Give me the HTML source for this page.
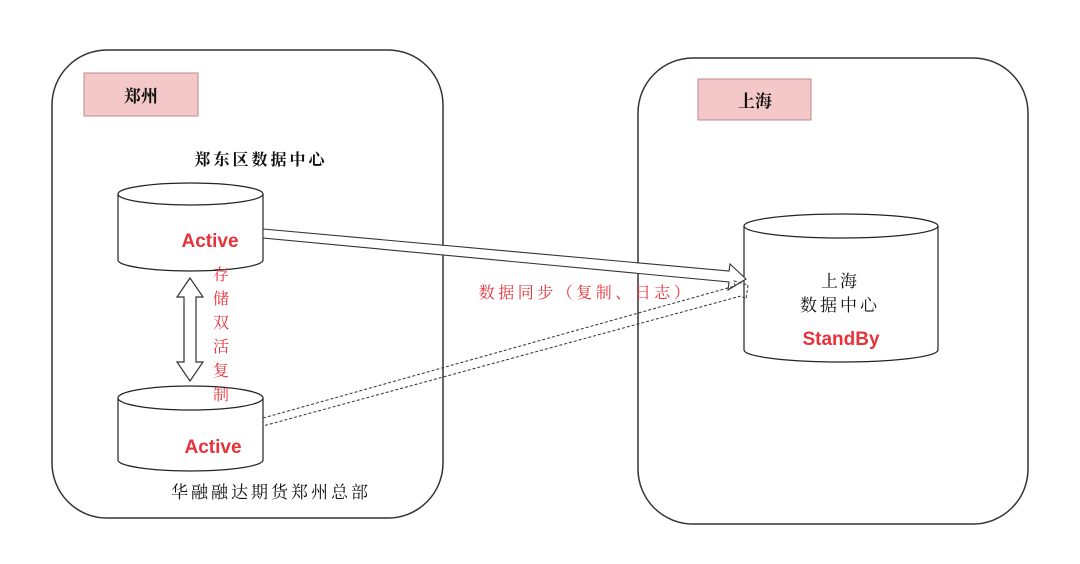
<!DOCTYPE html>
<html><head><meta charset="utf-8"><style>
html,body{margin:0;padding:0;background:#fff;}
svg{display:block;}
.s{font-family:"Liberation Serif","Noto Serif CJK SC",serif;}
.b{font-family:"Liberation Sans",sans-serif;font-weight:bold;}
</style></head><body>
<svg width="1080" height="564" viewBox="0 0 1080 564" xmlns="http://www.w3.org/2000/svg">
<rect x="0" y="0" width="1080" height="564" fill="#fff"/>
<rect x="52" y="50" width="391" height="468" rx="55" fill="none" stroke="#333" stroke-width="1.5"/>
<rect x="638" y="58" width="390" height="466" rx="55" fill="none" stroke="#333" stroke-width="1.5"/>
<rect x="84" y="73" width="114" height="43" fill="#f4c8c8" stroke="#c08888"/>
<rect x="698" y="79" width="113" height="41" fill="#f4c8c8" stroke="#c08888"/>
<text x="141" y="102" class="s" font-size="17" font-weight="bold" text-anchor="middle" fill="#111">郑州</text>
<text x="755" y="107" class="s" font-size="17" font-weight="bold" text-anchor="middle" fill="#111">上海</text>
<text x="261" y="165" class="s" font-size="16" font-weight="bold" text-anchor="middle" fill="#111" letter-spacing="3">郑东区数据中心</text>
<g fill="#fff" stroke="#222" stroke-width="1.2">
<path d="M118,194 L118,260 A72.5,11 0 0 0 263,260 L263,194"/>
<ellipse cx="190.5" cy="194" rx="72.5" ry="11"/>
<path d="M118,398 L118,460 A72.5,11 0 0 0 263,460 L263,398"/>
<ellipse cx="190.5" cy="398" rx="72.5" ry="12"/>
<path d="M744,226 L744,350 A97,12 0 0 0 938,350 L938,226"/>
<ellipse cx="841" cy="226" rx="97" ry="12"/>
</g>
<text x="210" y="247" class="b" font-size="19" text-anchor="middle" fill="#e8323a">Active</text>
<text x="213" y="453" class="b" font-size="19" text-anchor="middle" fill="#e8323a">Active</text>
<text x="841" y="345" class="b" font-size="19" text-anchor="middle" fill="#e8323a">StandBy</text>
<text x="840" y="287" class="s" font-size="17" text-anchor="middle" fill="#111" letter-spacing="2">上海</text>
<text x="840" y="311" class="s" font-size="17" text-anchor="middle" fill="#111" letter-spacing="3">数据中心</text>
<polygon points="190,278 203,297 196,297 196,362 203,362 190,381 177,362 184,362 184,297 177,297" fill="#fff" stroke="#333" stroke-width="1.2"/>
<g class="s" font-size="16" fill="#e8323a" text-anchor="middle">
<text x="221" y="280">存</text><text x="221" y="304">储</text><text x="221" y="328">双</text><text x="221" y="352">活</text><text x="221" y="376">复</text><text x="221" y="400">制</text>
</g>
<polygon points="263,229 729,271 730,264 746,279 728,290 729,282 263,238" fill="#fff" stroke="#333" stroke-width="1.1"/>
<polygon points="263,418 735,286 734,281 748,285 746,299 741,296 263,426" fill="none" stroke="#333" stroke-width="1" stroke-dasharray="3,2"/>
<text x="586" y="298" class="s" font-size="16" text-anchor="middle" fill="#e8323a" letter-spacing="3.5">数据同步（复制、日志）</text>
<text x="271" y="498" class="s" font-size="17" text-anchor="middle" fill="#111" letter-spacing="3">华融融达期货郑州总部</text>
</svg>
</body></html>
